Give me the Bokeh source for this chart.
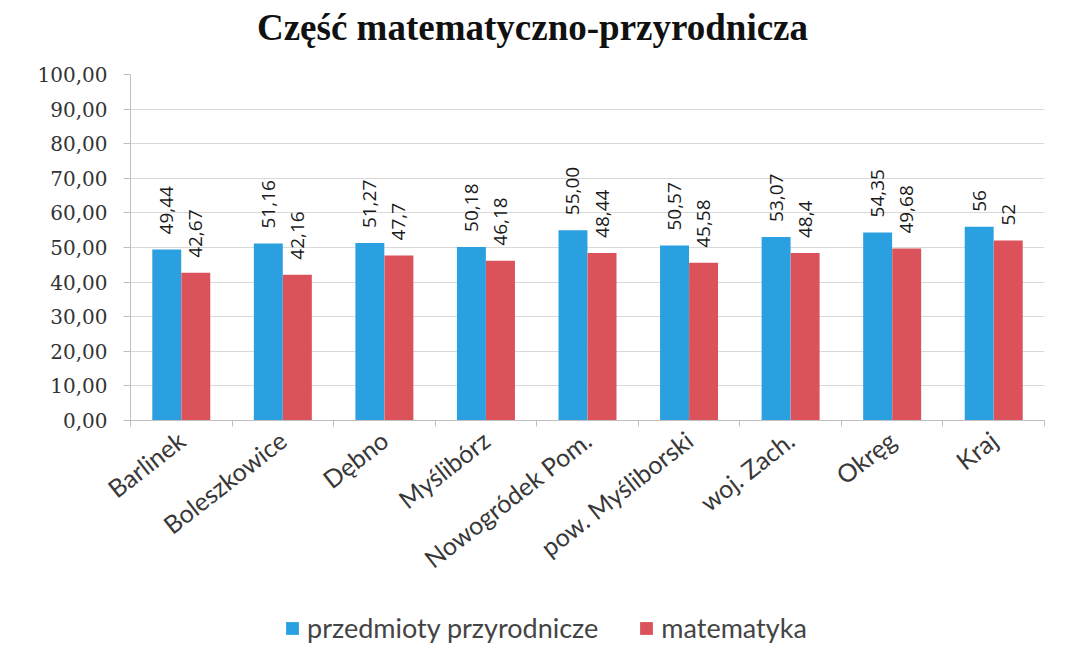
import math
from bokeh.plotting import figure
from bokeh.layouts import column
from bokeh.core.properties import value
from bokeh.models import (ColumnDataSource, Range1d, FixedTicker, CustomJSTickFormatter,
                          LabelSet, Label, Legend, LegendItem)
from bokeh.embed import file_html
from bokeh.resources import INLINE

title_text = "Część matematyczno-przyrodnicza"
categories = ["Barlinek", "Boleszkowice", "Dębno", "Myślibórz", "Nowogródek Pom.",
              "pow. Myśliborski", "woj. Zach.", "Okręg", "Kraj"]
series_names = ["przedmioty przyrodnicze", "matematyka"]
przyrodnicze = [49.44, 51.16, 51.27, 50.18, 55.00, 50.57, 53.07, 54.35, 56]
matematyka = [42.67, 42.16, 47.7, 46.18, 48.44, 45.58, 48.4, 49.68, 52]
przyrodnicze_labels = ["49,44", "51,16", "51,27", "50,18", "55,00", "50,57", "53,07", "54,35", "56"]
matematyka_labels = ["42,67", "42,16", "47,7", "46,18", "48,44", "45,58", "48,4", "49,68", "52"]
y_ticks = [0, 10, 20, 30, 40, 50, 60, 70, 80, 90, 100]

BLUE = "#2aa0e0"
RED = "#dc525b"
BAR_W = 0.285
OFF = 0.143
LEFT, RIGHT = 130, 18          # shared left / right borders of the stacked figures
WIDTH = 1062

n = len(categories)
centers = [i + 0.5 for i in range(n)]
bounds = [i for i in range(n + 1)]

src = ColumnDataSource(dict(
    xb=[c - OFF for c in centers],
    xr=[c + OFF for c in centers],
    pb=przyrodnicze, pm=matematyka,
    lb=przyrodnicze_labels, lm=matematyka_labels,
))

# ---- title strip (pixel-based ranges so the title sits where the original has it)
tf = figure(width=WIDTH, height=50, output_backend="svg", toolbar_location=None,
            x_range=Range1d(LEFT, WIDTH - RIGHT), y_range=Range1d(50, 0),
            min_border_left=LEFT, min_border_right=RIGHT, min_border_top=0, min_border_bottom=0)
tf.axis.visible = False
tf.grid.visible = False
tf.outline_line_color = None
tf.add_layout(Label(x=532, y=27, text=title_text, text_align="center",
                    text_baseline="middle", text_font="Liberation Serif",
                    text_font_size="37px", text_font_style="bold", text_color="#111111"))

# ---- main chart
p = figure(frame_width=914, frame_height=346, output_backend="svg", toolbar_location=None,
           x_range=Range1d(0, n), y_range=Range1d(0, 100),
           min_border_left=LEFT, min_border_right=RIGHT, min_border_top=24, min_border_bottom=180)
p.background_fill_color = "white"
p.border_fill_color = "white"
p.outline_line_color = None

rb = p.vbar(x="xb", top="pb", width=BAR_W, source=src, fill_color=BLUE, line_color=None)
rr = p.vbar(x="xr", top="pm", width=BAR_W, source=src, fill_color=RED, line_color=None)

for xcol, ycol, tcol in (("xb", "pb", "lb"), ("xr", "pm", "lm")):
    p.add_layout(LabelSet(x=xcol, y=ycol, text=tcol, source=src, angle=math.pi / 2,
                          y_offset=15, text_align="left", text_baseline="middle",
                          text_font=value("Open Sans"), text_font_size=value("19px"),
                          text_color="#1a1a1a"))

# y axis
p.yaxis.ticker = FixedTicker(ticks=y_ticks)
p.yaxis.formatter = CustomJSTickFormatter(code="return tick.toFixed(2).replace('.', ',');")
p.yaxis.axis_line_color = "#bfbfbf"
p.yaxis.major_tick_line_color = "#bfbfbf"
p.yaxis.major_tick_out = 7
p.yaxis.major_tick_in = 0
p.yaxis.minor_tick_line_color = None
p.yaxis.major_label_standoff = 16
p.yaxis.major_label_text_font = "DejaVu Serif"
p.yaxis.major_label_text_font_size = "20px"
p.yaxis.major_label_text_color = "#333333"

# x axis
p.xaxis.ticker = FixedTicker(ticks=centers, minor_ticks=bounds)
p.xaxis.major_label_overrides = {c: name for c, name in zip(centers, categories)}
p.xaxis.axis_line_color = "#bfbfbf"
p.xaxis.major_tick_line_color = None
p.xaxis.major_tick_out = 0
p.xaxis.major_tick_in = 0
p.xaxis.minor_tick_line_color = "#bfbfbf"
p.xaxis.minor_tick_out = 6
p.xaxis.minor_tick_in = 0
p.xaxis.major_label_orientation = math.radians(38)
p.xaxis.major_label_standoff = 10
p.xaxis.major_label_text_font = "Lato"
p.xaxis.major_label_text_font_size = "25px"
p.xaxis.major_label_text_color = "#383838"

p.xgrid.grid_line_color = None
p.ygrid.grid_line_color = "#d9d9d9"

# ---- legend strip; its glyph renderers sit far outside the visible range
lg = figure(width=WIDTH, height=49, output_backend="svg", toolbar_location=None,
            x_range=Range1d(100, 101), y_range=Range1d(1000, 1001),
            min_border_left=LEFT, min_border_right=RIGHT, min_border_top=0, min_border_bottom=0)
lg.axis.visible = False
lg.grid.visible = False
lg.outline_line_color = None
lb_r = lg.vbar(x="xb", top="pb", width=BAR_W, source=src, fill_color=BLUE, line_color=None)
lm_r = lg.vbar(x="xr", top="pm", width=BAR_W, source=src, fill_color=RED, line_color=None)
legend = Legend(items=[LegendItem(label=series_names[0], renderers=[lb_r]),
                       LegendItem(label=series_names[1], renderers=[lm_r])],
                orientation="horizontal", location=(154, 5),
                glyph_width=16, glyph_height=16, label_standoff=7, spacing=40,
                label_text_font="Lato", label_text_font_size="27px", label_text_color="#444444",
                border_line_color=None, background_fill_alpha=0,
                padding=0, margin=0)
lg.add_layout(legend, "center")

layout = column(tf, p, lg, spacing=0)
open("out.html", "w").write(file_html(layout, INLINE))
